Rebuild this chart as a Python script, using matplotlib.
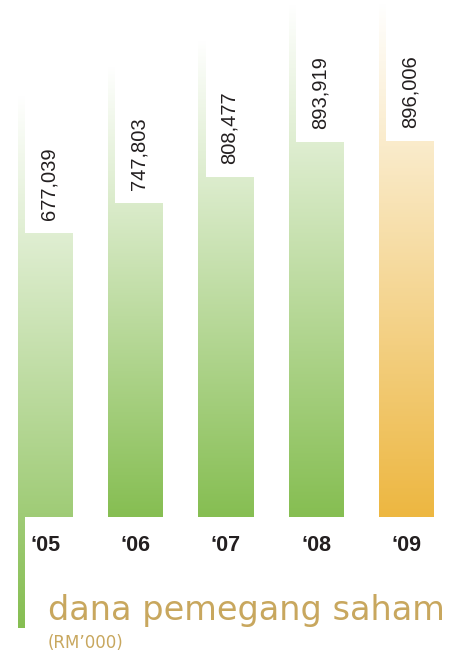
import numpy as np
import matplotlib.pyplot as plt
from matplotlib.patches import Polygon
from matplotlib.colors import LinearSegmentedColormap

# Data (RM'000)
years = ["\u201805", "\u201806", "\u201807", "\u201808", "\u201809"]
values = [677039, 747803, 808477, 893919, 896006]
bar_colors = ["#86BE52", "#86BE52", "#86BE52", "#86BE52", "#EDB741"]

# Layout constants
BAR_W = 0.61       # bar width (category units)
STRIPE = 0.078     # left stripe width
EXT = 326000       # how far the stripe rises above the bar
AXIS_DROP = -264000  # first stripe goes down below the baseline
TXT = "#231F20"
GOLD = "#C8A75E"

fig = plt.figure(figsize=(4.61, 6.53), dpi=100)
ax = fig.add_axes([0, 0, 1, 1])
ax.axis("off")

grad = np.linspace(0, 1, 256).reshape(-1, 1)

for i, (v, c) in enumerate(zip(values, bar_colors)):
    x0 = i - BAR_W / 2
    x1 = i + BAR_W / 2
    xs = x0 + STRIPE
    top = v + EXT
    # L-shaped outline: bar body plus thin stripe going up on the left
    if i == 0:
        bottom = AXIS_DROP
        pts = [(x0, bottom), (xs, bottom), (xs, 0), (x1, 0), (x1, v),
               (xs, v), (xs, top), (x0, top)]
    else:
        bottom = 0
        pts = [(x0, 0), (x1, 0), (x1, v), (xs, v), (xs, top), (x0, top)]
    shape = Polygon(pts, closed=True, transform=ax.transData)
    cmap = LinearSegmentedColormap.from_list("g%d" % i, [c, "#FFFFFF"])
    im = ax.imshow(grad, cmap=cmap, origin="lower", aspect="auto",
                   extent=[x0, x1, bottom, top], interpolation="bilinear")
    im.set_clip_path(shape)

    ax.text(xs + (BAR_W - STRIPE) / 2, v + 31000, f"{v:,}",
            rotation=90, ha="center", va="bottom", fontsize=14.5,
            family="Liberation Sans", color=TXT)
    ax.text(i, -69000, years[i], ha="center", va="center", fontsize=15.5,
            family="Liberation Sans", fontweight="bold", color=TXT)

ax.set_xlim(-0.504, 4.604)
ax.set_ylim(-323800, 1231000)

fig.text(48 / 461, 1 - 620 / 653, "dana pemegang saham", fontsize=24.2,
         family="DejaVu Sans", color=GOLD, va="baseline", ha="left")
fig.text(48 / 461, 1 - 648 / 653, "(RM\u2019000)", fontsize=12,
         family="DejaVu Sans", color=GOLD, va="baseline", ha="left")

fig.savefig("out.png", dpi=100)
